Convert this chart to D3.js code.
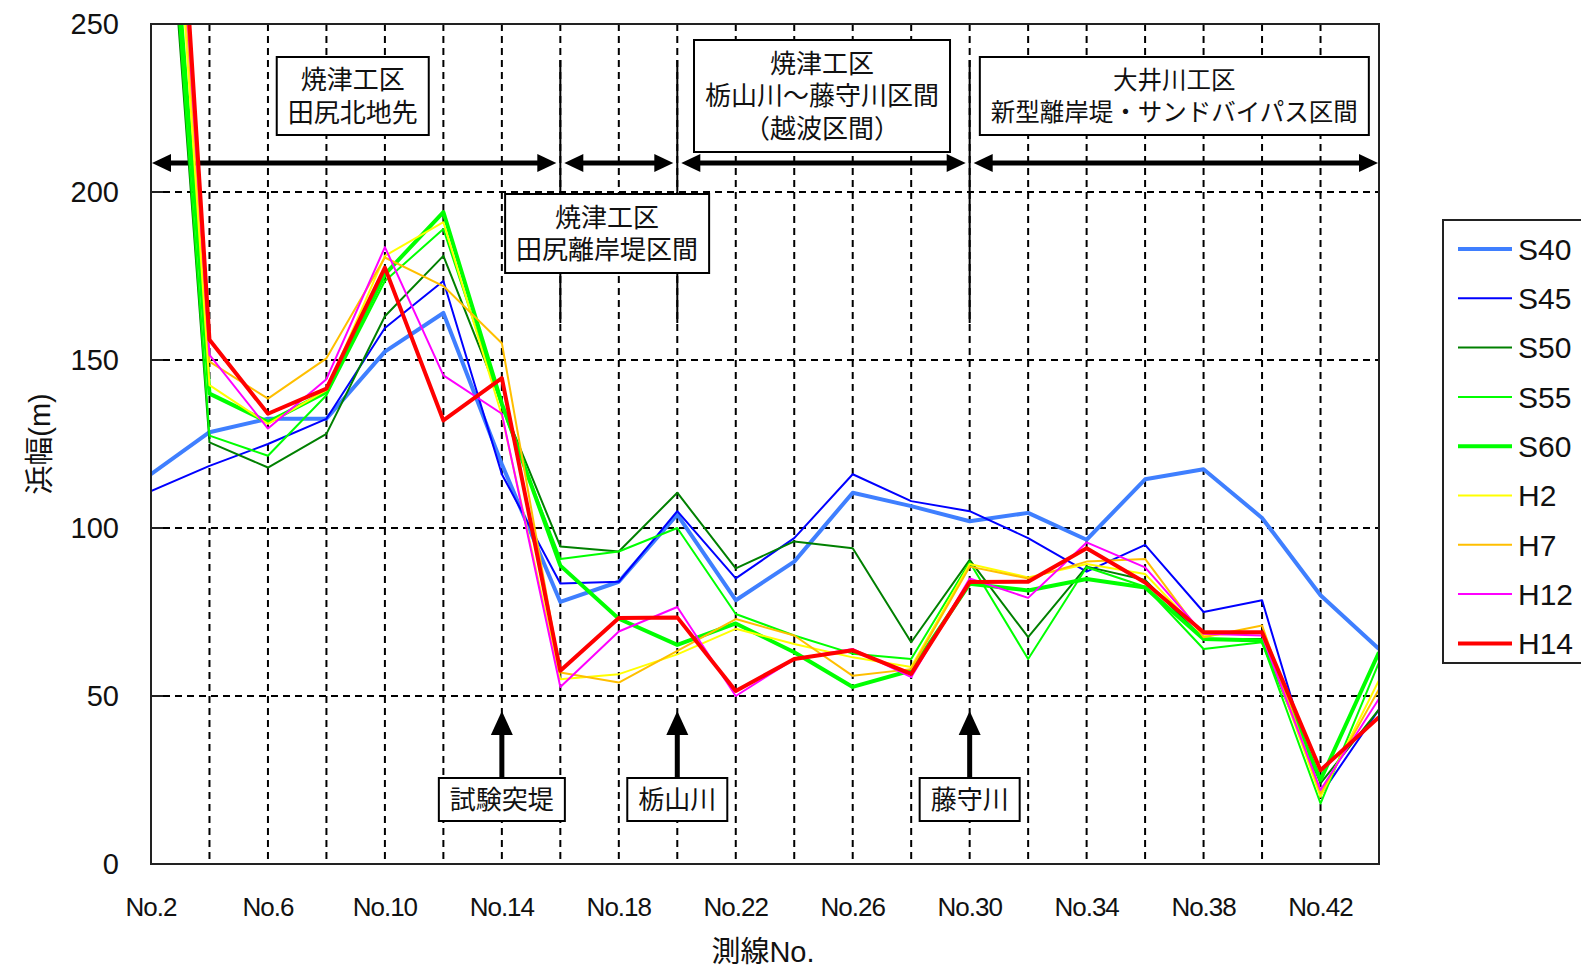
<!DOCTYPE html>
<html>
<head>
<meta charset="utf-8">
<script src="https://cdn.jsdelivr.net/npm/d3@7"></script>
<style>
  body { margin: 0; background: #fff; }
  text { font-family: "Liberation Sans", "Noto Sans CJK JP", sans-serif; fill: #111; }
  .jp { font-family: "Noto Sans CJK JP", sans-serif; }
</style>
</head>
<body>
<svg id="chart" width="1581" height="971"></svg>
<script>
// survey line numbers (No.2 ... No.44)
const lineNos = [2,4,6,8,10,12,14,16,18,20,22,24,26,28,30,32,34,36,38,40,42,44];
const xTickNos = [2,6,10,14,18,22,26,30,34,38,42];
const yTicks = [0,50,100,150,200,250];
const seriesNames = ['S40','S45','S50','S55','S60','H2','H7','H12','H14'];

// beach width (m) for each survey line
const s40 = [116,128.5,132.5,132.5,152.5,164,119,78,84,104,78.5,90,110.5,106.5,102,104.5,96.5,114.5,117.5,103,80,64];
const s45 = [111,118.5,125,132.5,159.5,173.5,116,83.5,84,105,85,97,116,108,105,97,87,95,75,78.5,20.5,46];
const s50 = [360,125.5,118,128,163,181,137,94.5,93,110.5,88,96,94,66,90.5,67.5,88.5,84.5,67,67,24,46];
const s55 = [365,127.5,121.5,139.5,173.5,189,136,90.8,93,100,74.4,68,62.6,61,89.8,61,88.3,82.5,64,66,18,60];
const s60 = [370,140,131.5,140.5,175.5,194,137,88.8,73,65.2,71.6,63,52.7,57.6,83.4,81.4,84.8,82.3,67,66.5,25,63];
const h2  = [400,142.5,131,141,181,191,133.5,55,56.5,62.4,70,65.5,61.5,58.6,89.3,85.3,89.3,86.3,68,69,20,54.7];
const h7  = [410,149.5,138.5,150.5,180.5,172,155,57,54,63.4,72.9,68,56,58,88.5,85,90,90.8,67.5,71,21,52];
const h12 = [420,151.5,129.6,144.3,183.6,145.4,134,52.7,69.2,76.5,50,61,64,55.6,85,79.2,95.7,88.3,68.5,68,22,49.2];
const h14 = [430,156,134,141.5,177.5,132,144.6,57.5,73.2,73.4,51.5,61,63.6,56.6,83.9,84,94,83.8,69,69,27.9,43.7];

const seriesValues = [s40, s45, s50, s55, s60, h2, h7, h12, h14];
const seriesColors = ['#3f7fff','#0000ff','#008000','#00ff00','#00ff00','#ffff00','#ffbf00','#ff00ff','#ff0000'];
const seriesWidths = [4, 2, 2, 2, 4, 2, 2, 2, 4];

// section boundaries (survey line No.) and annotations
const sectionBounds = [2, 16, 20, 30, 44];
const sectionLabels = [
  { no: 8.9,   size: 26, lines: ['焼津工区', '田尻北地先'], top: 57, bottom: 135 },
  { no: 17.6,  size: 26, lines: ['焼津工区', '田尻離岸堤区間'], top: 194, bottom: 273 },
  { no: 24.95, size: 26, lines: ['焼津工区', '栃山川～藤守川区間', '（越波区間）'], top: 40, bottom: 152 },
  { no: 37.0,  size: 24.5, lines: ['大井川工区', '新型離岸堤・サンドバイパス区間'], top: 57, bottom: 135 }
];
const landmarks = [
  { no: 14, name: '試験突堤' },
  { no: 20, name: '栃山川' },
  { no: 30, name: '藤守川' }
];

const svg = d3.select('#chart');
const plot = { left: 151, right: 1379, top: 24, bottom: 864 };

const x = d3.scaleLinear().domain([2, 44]).range([plot.left, plot.right]);
const y = d3.scaleLinear().domain([0, 250]).range([plot.bottom, plot.top]);

// grid
const grid = svg.append('g');
grid.selectAll('.vgrid').data(lineNos.slice(1, -1))
  .enter().append('line')
    .attr('x1', d => x(d)).attr('x2', d => x(d))
    .attr('y1', plot.top).attr('y2', plot.bottom)
    .attr('stroke', '#000').attr('stroke-width', 2).attr('stroke-dasharray', '7,5');
grid.selectAll('.hgrid').data(yTicks.slice(1, -1))
  .enter().append('line')
    .attr('x1', plot.left).attr('x2', plot.right)
    .attr('y1', d => y(d)).attr('y2', d => y(d))
    .attr('stroke', '#000').attr('stroke-width', 2).attr('stroke-dasharray', '7,5');

// section dividers (solid)
svg.selectAll('.divider').data(sectionBounds.slice(1, -1))
  .enter().append('line')
    .attr('x1', d => x(d)).attr('x2', d => x(d))
    .attr('y1', 60).attr('y2', 323)
    .attr('stroke', '#000').attr('stroke-width', 2);

// double arrows for each section
const arrowY = 163;
const arrows = svg.append('g');
d3.pairs(sectionBounds).forEach(([a, b]) => {
  const x1 = x(a) + (a === 2 ? 1 : 4);
  const x2 = x(b) - (b === 44 ? 1 : 4);
  arrows.append('line')
    .attr('x1', x1 + 14).attr('x2', x2 - 14)
    .attr('y1', arrowY).attr('y2', arrowY)
    .attr('stroke', '#000').attr('stroke-width', 5);
  arrows.append('path')
    .attr('d', `M${x1},${arrowY} L${x1 + 19},${arrowY - 9} L${x1 + 19},${arrowY + 9} Z`)
    .attr('fill', '#000');
  arrows.append('path')
    .attr('d', `M${x2},${arrowY} L${x2 - 19},${arrowY - 9} L${x2 - 19},${arrowY + 9} Z`)
    .attr('fill', '#000');
});

// section label boxes, one text per line
sectionLabels.forEach(s => {
  const g = svg.append('g');
  const lh = 32.5;
  const mid = (s.top + s.bottom) / 2;
  const texts = s.lines.map((ln, i) => g.append('text')
    .attr('class', 'jp')
    .attr('text-anchor', 'middle')
    .attr('font-size', s.size)
    .attr('x', x(s.no))
    .attr('y', mid + (i - (s.lines.length - 1) / 2) * lh)
    .attr('dy', '0.36em')
    .text(ln));
  const w = d3.max(texts, t => t.node().getComputedTextLength());
  g.insert('rect', 'text')
    .attr('x', x(s.no) - w / 2 - 11).attr('width', w + 22)
    .attr('y', s.top).attr('height', s.bottom - s.top)
    .attr('fill', '#fff').attr('stroke', '#000').attr('stroke-width', 2);
});

// landmark arrows and boxes
landmarks.forEach(m => {
  const cx = x(m.no);
  const g = svg.append('g');
  g.append('line')
    .attr('x1', cx).attr('x2', cx)
    .attr('y1', 730).attr('y2', 778)
    .attr('stroke', '#000').attr('stroke-width', 5);
  g.append('path')
    .attr('d', `M${cx},${711} L${cx - 11},${735} L${cx + 11},${735} Z`)
    .attr('fill', '#000');
  const t = g.append('text')
    .attr('class', 'jp')
    .attr('x', cx).attr('y', 800).attr('dy', '0.36em')
    .attr('text-anchor', 'middle').attr('font-size', 26)
    .text(m.name);
  const bb = t.node().getBBox();
  g.insert('rect', 'text')
    .attr('x', bb.x - 11).attr('width', bb.width + 22)
    .attr('y', 778).attr('height', 43)
    .attr('fill', '#fff').attr('stroke', '#000').attr('stroke-width', 2);
});

// series lines
svg.append('clipPath').attr('id', 'plotClip')
  .append('rect')
    .attr('x', plot.left).attr('y', plot.top)
    .attr('width', plot.right - plot.left).attr('height', plot.bottom - plot.top);

const lineGen = d3.line()
  .x((d, i) => x(lineNos[i]))
  .y(d => y(d));

svg.append('g').attr('clip-path', 'url(#plotClip)')
  .selectAll('path').data(seriesValues)
  .enter().append('path')
    .attr('d', lineGen)
    .attr('fill', 'none')
    .attr('stroke', (d, i) => seriesColors[i])
    .attr('stroke-width', (d, i) => seriesWidths[i])
    .attr('stroke-linejoin', 'round');

// frame
svg.append('rect')
  .attr('x', plot.left).attr('y', plot.top)
  .attr('width', plot.right - plot.left).attr('height', plot.bottom - plot.top)
  .attr('fill', 'none').attr('stroke', '#222').attr('stroke-width', 2);

// y ticks (inside) and labels
svg.selectAll('.ytick').data(yTicks)
  .enter().append('line')
    .attr('x1', plot.left).attr('x2', plot.left + 12)
    .attr('y1', d => y(d)).attr('y2', d => y(d))
    .attr('stroke', '#222').attr('stroke-width', 2);
svg.selectAll('.ylabel').data(yTicks)
  .enter().append('text')
    .attr('x', 119).attr('y', d => y(d)).attr('dy', '0.36em')
    .attr('text-anchor', 'end').attr('font-size', 29)
    .text(d => d);

// x labels
svg.selectAll('.xlabel').data(xTickNos)
  .enter().append('text')
    .attr('x', d => x(d)).attr('y', 907).attr('dy', '0.36em')
    .attr('text-anchor', 'middle').attr('font-size', 26)
    .attr('letter-spacing', -1)
    .text(d => 'No.' + d);

// axis titles
svg.append('text')
  .attr('x', 763).attr('y', 952).attr('dy', '0.36em')
  .attr('text-anchor', 'middle').attr('font-size', 29)
  .text('測線No.');
svg.append('text')
  .attr('transform', 'translate(40,444) rotate(-90)')
  .attr('dy', '0.36em')
  .attr('text-anchor', 'middle').attr('font-size', 29)
  .text('浜幅(m)');

// legend
const legend = svg.append('g');
legend.append('rect')
  .attr('x', 1443).attr('y', 220).attr('width', 200).attr('height', 443)
  .attr('fill', '#fff').attr('stroke', '#222').attr('stroke-width', 2);
const item = legend.selectAll('.item').data(seriesNames)
  .enter().append('g')
    .attr('transform', (d, i) => `translate(0,${249 + i * 49.3})`);
item.append('line')
  .attr('x1', 1458).attr('x2', 1512)
  .attr('stroke', (d, i) => seriesColors[i])
  .attr('stroke-width', (d, i) => seriesWidths[i]);
item.append('text')
  .attr('x', 1518).attr('dy', '0.36em')
  .attr('font-size', 30)
  .text(d => d);
</script>
</body>
</html>
